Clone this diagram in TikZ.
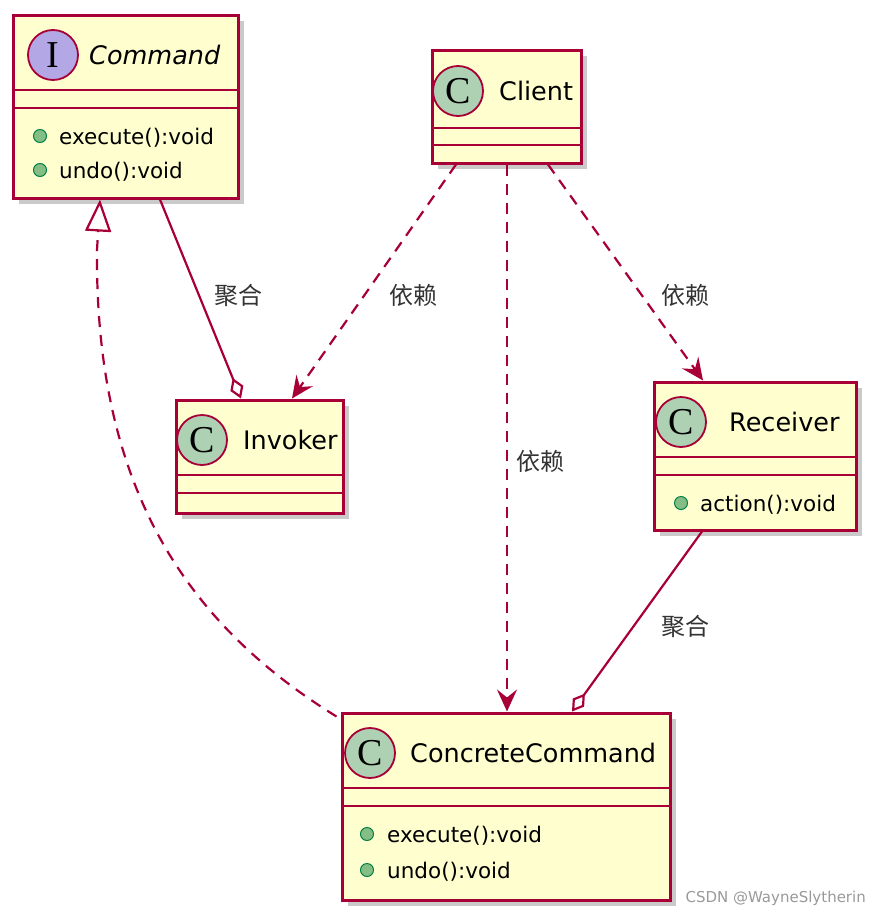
\documentclass[tikz,border=0pt]{standalone}
\usepackage{fontspec}
\setmainfont{DejaVu Sans}
\newfontfamily\cjk{Noto Sans CJK SC}
\newfontfamily\circfont{Liberation Serif}
\usetikzlibrary{arrows.meta,shadows}
\definecolor{bd}{HTML}{A80036}
\definecolor{bg}{HTML}{FEFECE}
\definecolor{cc}{HTML}{ADD1B2}
\definecolor{ci}{HTML}{B4A7E5}
\definecolor{dotf}{HTML}{84BE84}
\definecolor{dotb}{HTML}{038048}
\tikzset{
 box/.style={draw=bd,fill=bg,line width=3pt,inner sep=0,
   drop shadow={shadow xshift=6pt,shadow yshift=-6pt,opacity=.35,fill=black!60}},
 sep/.style={draw=bd,line width=2.6pt},
 circ/.style={circle,draw=bd,line width=1.8pt,minimum size=50pt,inner sep=0,font=\fontsize{38}{40}\selectfont\circfont},
 title/.style={anchor=west,font=\fontsize{25.5}{28}\selectfont,inner sep=0},
 meth/.style={anchor=west,font=\fontsize{21.5}{24}\selectfont,inner sep=0},
 dot/.style={circle,fill=dotf,draw=dotb,line width=1pt,minimum size=13pt,inner sep=0},
 lbl/.style={font=\fontsize{24}{26}\selectfont\cjk,text=black!80,inner sep=0},
 edge/.style={draw=bd,line width=2.2pt},
 dep/.style={edge,dash pattern=on 11pt off 8pt,-{Stealth[length=22pt,width=20pt,inset=8pt]}},
}
\begin{document}
\begin{tikzpicture}[x=1pt,y=-1pt]
\useasboundingbox (0,0) rectangle (879,918);
% Command
\node[box,minimum width=225pt,minimum height=183pt] (cmd) at (125.5,106.5) {};
\draw[sep] (13,90) -- (238,90) (13,108) -- (238,108);
\node[circ,fill=ci] (cmdc) at (53,55) {I};
\node[title,font=\fontsize{25.5}{28}\selectfont\itshape] (cmdt) at (89,55) {Command};
\node[dot] (cd1) at (40,136) {}; \node[meth] (cm1) at (59,138) {execute():void};
\node[dot] (cd2) at (40,170) {}; \node[meth] (cm2) at (59,172) {undo():void};
% Client
\node[box,minimum width=149pt,minimum height=113pt] (cli) at (506.5,106.5) {};
\draw[sep] (432,128) -- (581,128) (432,145) -- (581,145);
\node[circ,fill=cc] (clic) at (458,91) {C};
\node[title] (clit) at (499,91) {Client};
% Invoker
\node[box,minimum width=167pt,minimum height=113pt] (inv) at (259.5,456.5) {};
\draw[sep] (176,475) -- (343,475) (176,493) -- (343,493);
\node[circ,fill=cc] (invc) at (202,440) {C};
\node[title] (invt) at (243,440) {Invoker};
% Receiver
\node[box,minimum width=202pt,minimum height=148pt] (rec) at (755,456) {};
\draw[sep] (654,457) -- (856,457) (654,475) -- (856,475);
\node[circ,fill=cc] (recc) at (681,422) {C};
\node[title] (rect) at (729,422) {Receiver};
\node[dot] (rd1) at (681,503) {}; \node[meth] (rm1) at (700,505) {action():void};
% ConcreteCommand
\node[box,minimum width=328pt,minimum height=187pt] (con) at (506,806.5) {};
\draw[sep] (342,788) -- (670,788) (342,806) -- (670,806);
\node[circ,fill=cc] (conc) at (370,753) {C};
\node[title] (cont) at (410,753) {ConcreteCommand};
\node[dot] (kd1) at (367,834) {}; \node[meth] (km1) at (387,836) {execute():void};
\node[dot] (kd2) at (367,870) {}; \node[meth] (km2) at (387,872) {undo():void};
% edges
\draw[edge,-{Diamond[open,length=22pt,width=14pt]}] (cmd.south -| 160,0) -- (inv.north -| 241,0);
\node[lbl] (l1) at (238,295) {聚合};
\draw[dep] (cli.south -| 456,0) -- (inv.north -| 292,0);
\node[lbl] (l2) at (413,295) {依赖};
\draw[dep] (cli.south -| 507,0) -- (con.north -| 507,0);
\node[lbl] (l3) at (540,461) {依赖};
\draw[dep] (cli.south -| 548,0) -- (rec.north -| 703,0);
\node[lbl] (l4) at (685,295) {依赖};
\draw[edge,-{Diamond[open,length=22pt,width=14pt]}] (rec.south -| 702,0) -- (con.north -| 572,0);
\node[lbl] (l5) at (685,626) {聚合};
\draw[edge,dash pattern=on 11pt off 8pt,-{Triangle[open,length=32pt,width=26pt]}] (con.north west) ++(-4,5) .. controls (180,620) and (95,480) .. (97,250) -- (cmd.south -| 100,0);
\node[font=\fontsize{15}{17}\selectfont,text=black!40,anchor=east,inner sep=0] (wm) at (866,898) {CSDN @WayneSlytherin};
\end{tikzpicture}
\end{document}
